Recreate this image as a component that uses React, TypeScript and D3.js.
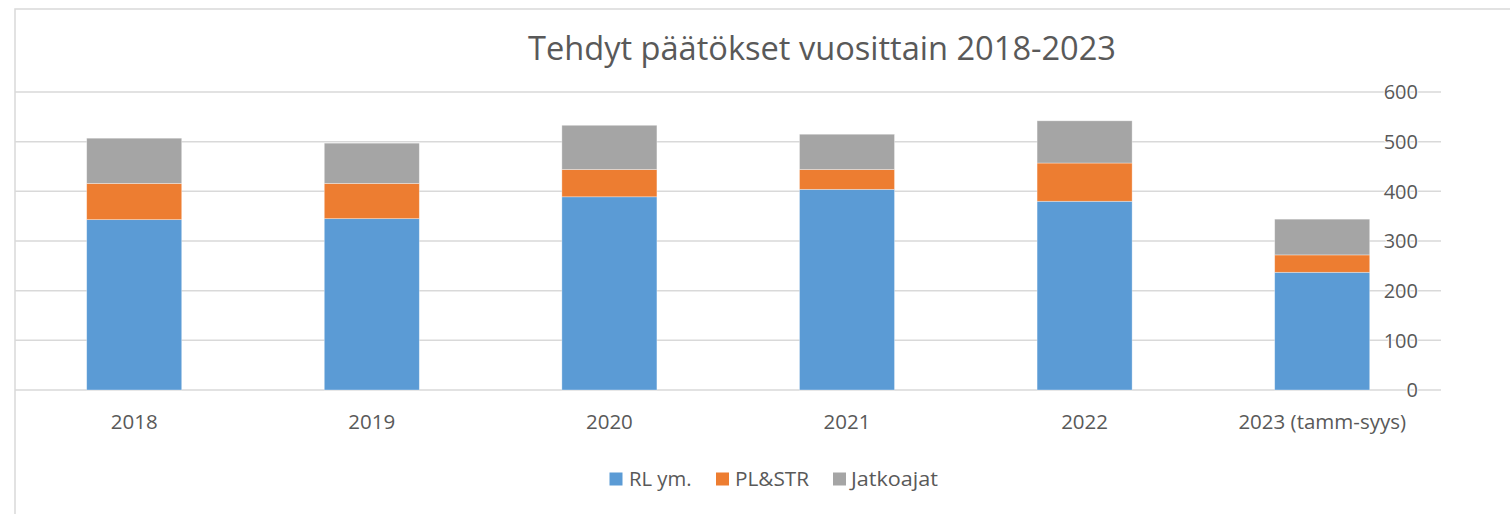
import React from "react";
import * as d3 from "d3";

const categories = ["2018", "2019", "2020", "2021", "2022", "2023 (tamm-syys)"];
const rlYm = [343, 345, 389, 404, 380, 237];
const plStr = [73, 71, 55, 40, 77, 35];
const jatkoajat = [91, 81, 89, 71, 85, 72];
const seriesNames = ["RL ym.", "PL&STR", "Jatkoajat"];
const seriesColors = ["#5B9BD5", "#ED7D31", "#A5A5A5"];
const yTicks = [0, 100, 200, 300, 400, 500, 600];
const title = "Tehdyt päätökset vuosittain 2018-2023";

const W = 1510;
const H = 514;
const FONT = "'Open Sans', 'Noto Sans', sans-serif";
const TEXT = "#595959";
const GRID = "#D9D9D9";

export default function App() {
  const x = d3
    .scaleBand<string>()
    .domain(categories)
    .range([15.4, 1441])
    .paddingInner(0.6)
    .paddingOuter(0.3);
  const y = d3.scaleLinear().domain([0, 600]).range([390, 92]);

  const rows = categories.map((c, i) => ({
    cat: c,
    "RL ym.": rlYm[i],
    "PL&STR": plStr[i],
    Jatkoajat: jatkoajat[i],
  }));
  const stacked = d3.stack<any>().keys(seriesNames)(rows);

  const legendItems = [
    { name: seriesNames[0], sx: 609.5, tx: 629, w: 62.5 },
    { name: seriesNames[1], sx: 716, tx: 735, w: 74 },
    { name: seriesNames[2], sx: 833, tx: 851, w: 87 },
  ];

  return (
    <svg
      width={W}
      height={H}
      style={{ position: "absolute", left: 0, top: 0, background: "#fff" }}
      fontFamily={FONT}
    >
      <rect x={15} y={9} width={W + 20} height={H + 20} fill="#fff" stroke={GRID} strokeWidth={1.5} />
      <text
        x={822}
        y={60}
        textAnchor="middle"
        fontSize={32}
        fill={TEXT}
        textLength={588}
        lengthAdjust="spacingAndGlyphs"
      >
        {title}
      </text>
      {yTicks.map((t) => (
        <line key={"g" + t} x1={15} x2={1441} y1={y(t)} y2={y(t)} stroke={GRID} strokeWidth={1.5} />
      ))}
      {stacked.map((s, si) => (
        <g key={s.key} fill={seriesColors[si]}>
          {s.map((d, i) => (
            <rect
              key={i}
              x={x(categories[i])}
              width={x.bandwidth()}
              y={y(d[1])}
              height={y(d[0]) - y(d[1])}
              stroke="#ffffff"
              strokeOpacity={0.45}
              strokeWidth={0.75}
            />
          ))}
        </g>
      ))}
      {yTicks.map((t) => (
        <text
          key={"t" + t}
          x={1418}
          y={y(t)}
          dy="0.36em"
          textAnchor="end"
          fontSize={20}
          fill={TEXT}
          stroke="#fff"
          strokeWidth={2}
          paintOrder="stroke"
        >
          {t}
        </text>
      ))}
      {categories.map((c) => (
        <text
          key={"x" + c}
          x={(x(c) as number) + x.bandwidth() / 2}
          y={429}
          textAnchor="middle"
          fontSize={20.5}
          fill={TEXT}
        >
          {c}
        </text>
      ))}
      {legendItems.map((l, i) => (
        <g key={l.name}>
          <rect x={l.sx} y={472.5} width={13} height={13} fill={seriesColors[i]} />
          <text x={l.tx} y={485.5} fontSize={20.5} fill={TEXT} textLength={l.w} lengthAdjust="spacingAndGlyphs">
            {l.name}
          </text>
        </g>
      ))}
    </svg>
  );
}
